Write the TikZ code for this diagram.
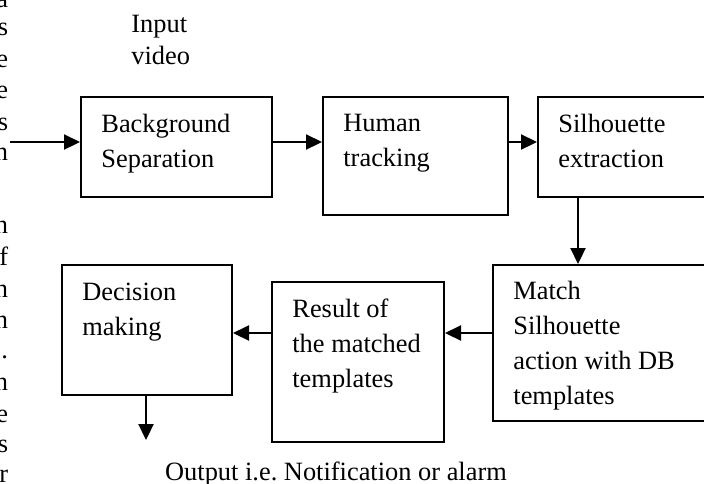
\documentclass[tikz,border=0pt]{standalone}
\usepackage{fontspec}
\setmainfont{Liberation Serif}
\usetikzlibrary{arrows.meta,positioning}

\tikzset{
  box/.style={draw, line width=1pt, inner sep=0pt},
  lbl/.style={anchor=north west, inner sep=0pt, align=left, font=\fontsize{13.2}{17.5}\selectfont},
  frag/.style={anchor=base east, inner sep=0pt, font=\fontsize{13.2}{17.5}\selectfont},
  flow/.style={line width=1.1pt, -{Triangle[length=8pt,width=7.5pt]}},
}

\begin{document}
\begin{tikzpicture}[x=0.5pt, y=-0.5pt]
        % Page
        \clip (0,0) rectangle (704,483);

        % Cut-off letters of the page text
        \foreach \ch/\yy in {a/7, s/35, e/67, e/98, s/130, n/160, n/233, f/265, n/297, n/328, ./358, n/390, e/422, s/452, r/482}
          \node[frag] (frag-\yy) at (8.5,\yy) {\ch};

        % Boxes
        \node[box, minimum width=95.5pt, minimum height=50pt] (bg) at (176.5,147) {};
        \node[box, minimum width=92.5pt, minimum height=59pt] (human) at (415.5,156) {};
        \node[box, minimum width=91pt, minimum height=50pt] (sil) at (629,147) {};
        \node[box, minimum width=113.5pt, minimum height=78pt] (match) at (606.5,343) {};
        \node[box, minimum width=86pt, minimum height=80pt] (result) at (358,362) {};
        \node[box, minimum width=85pt, minimum height=65pt] (decision) at (147,330) {};

        % Box texts
        \node[lbl] (bgtxt) at ([shift={(21,18)}]bg.north west) {Background\\Separation};
        \node[lbl] (humantxt) at ([shift={(21,18)}]human.north west) {Human\\tracking};
        \node[lbl] (siltxt) at ([shift={(21,18)}]sil.north west) {Silhouette\\extraction};
        \node[lbl] (matchtxt) at ([shift={(21,17)}]match.north west) {Match\\Silhouette\\action with DB\\templates};
        \node[lbl] (resulttxt) at ([shift={(21,17)}]result.north west) {Result of\\the matched\\templates};
        \node[lbl] (decisiontxt) at ([shift={(21,19)}]decision.north west) {Decision\\making};

        % Input and output
        \node[lbl] (input) at (131,15) {Input\\[-1.5pt]video};
        \node[lbl, anchor=north] (output) at (336,461) {Output i.e.\ Notification or alarm};

        % Top row
        \coordinate (src) at (10,142);
        \draw[flow] (src) -- (src -| bg.west);
        \draw[flow] (bg.east |- src) -- (human.west |- src);
        \draw[flow] (human.east |- src) -- (sil.west |- src);

        % Down to matching
        \coordinate (drop) at (578,0);
        \draw[flow] (sil.south -| drop) -- (match.north -| drop);

        % Bottom row, right to left
        \coordinate (back) at (0,333);
        \draw[flow] (match.west |- back) -- (result.east |- back);
        \draw[flow] (result.west |- back) -- (decision.east |- back);

        % Output arrow
        \coordinate (out) at (146,440);
        \draw[flow] (decision.south -| out) -- (out);
      \end{tikzpicture}
\end{document}
